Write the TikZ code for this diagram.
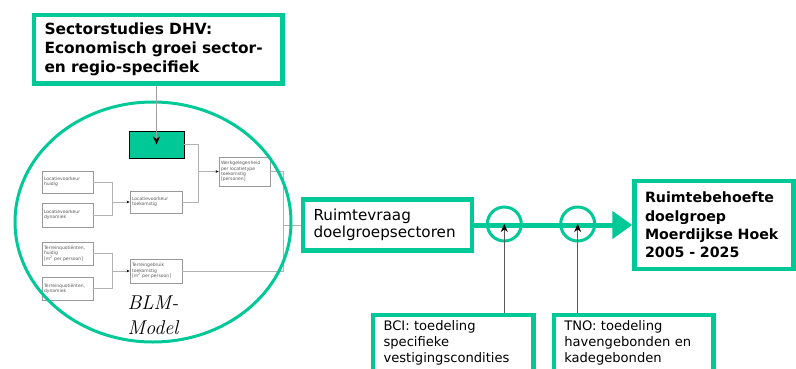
\documentclass[tikz,border=0pt]{standalone}
\usepackage{fontspec}
\newfontfamily\dvsans{DejaVu Sans}
\usetikzlibrary{arrows.meta,shapes.geometric}
\definecolor{dhvgreen}{RGB}{0,200,150}
\begin{document}
\begin{tikzpicture}[x=1pt,y=-1pt,
    greenbox/.style={draw=dhvgreen,line width=4.5pt,fill=white,inner xsep=10.5pt,inner ysep=0pt,align=left},
    blmbox/.style={draw=gray!80,line width=0.7pt,fill=white,inner sep=1.5pt,text width=47pt,
      minimum width=51pt,align=left,text=gray!70!black,font=\dvsans\fontsize{4.5}{5.4}\selectfont},
    wire/.style={draw=gray!60,line width=0.6pt},
    wirearrow/.style={wire,-{Stealth[length=3pt,width=2.6pt,black]}},
    feed/.style={draw=black!65,line width=1pt,-{Stealth[length=8pt,width=7pt,black]}},
    ringnode/.style={circle,draw=dhvgreen,line width=3pt,minimum size=34pt,inner sep=0pt},
    mainarrow/.style={draw=dhvgreen,line width=5pt,-{Triangle[length=20pt,width=27pt,fill=dhvgreen]}}
  ]
  \useasboundingbox (0,0) rectangle (796,368);

  \node[greenbox,text width=227.5pt,minimum height=68.5pt,
    font=\dvsans\bfseries\fontsize{15.4}{19}\selectfont] (sector) at (158.25,49.25)
    {Sectorstudies DHV:\\Economisch groei sector-\\en regio-specifiek};

  \node[blmbox,minimum height=22pt] (lochuidig) at (67.5,182) {Locatievoorkeur\\huidig};
  \node[blmbox,minimum height=24pt] (locdyn) at (67.5,215) {Locatievoorkeur\\dynamiek};
  \node[blmbox,minimum height=22pt,text width=48pt,minimum width=52pt] (loctoek) at (156,202) {Locatievoorkeur\\toekomstig};
  \node[blmbox,minimum height=29pt] (werk) at (244.5,171.5) {Werkgelegenheid\\per locatietype\\toekomstig\\{[personen]}};
  \node[blmbox,minimum height=23pt] (terhuidig) at (67.5,253.5) {Terreinquoti\"enten,\\huidig\\{[m\textsuperscript{2} per persoon]}};
  \node[blmbox,minimum height=23pt] (terdyn) at (67.5,288.5) {Terreinquoti\"enten,\\dynamiek};
  \node[blmbox,minimum height=24pt,text width=48pt,minimum width=52pt] (tertoek) at (156,271) {Terreingebruik\\toekomstig\\{[m\textsuperscript{2} per persoon]}};
  \node[draw=black,fill=dhvgreen,line width=0.8pt,minimum width=55pt,minimum height=27pt] (grn) at (156.5,144.5) {};

  \node[greenbox,text width=148pt,minimum height=51pt,
    font=\dvsans\fontsize{15.2}{17}\selectfont] (vraag) at (387.5,225)
    {Ruimtevraag\\doelgroepsectoren};

  \coordinate (jl1) at (112,202);
  \coordinate (jr1) at (198,171.5);
  \coordinate (jl2) at (112,271);
  \coordinate (jr2) at (283,225);
  \begin{scope}
    \draw[wire] (lochuidig.east) -| (jl1);
    \draw[wire] (locdyn.east) -| (jl1);
    \draw[wirearrow] (jl1) -- (loctoek);
    \draw[wire] (grn.east) -| (jr1);
    \draw[wire] (loctoek.east) -| (jr1);
    \draw[wirearrow] (jr1) -- (werk);
    \draw[wire] (terhuidig.east) -| (jl2);
    \draw[wire] (terdyn.east) -| (jl2);
    \draw[wirearrow] (jl2) -- (tertoek);
    \draw[wire] (tertoek.east) -| (jr2);
    \draw[wire] (werk.east) -| (jr2);
    \draw[wire] (jr2) -- (vraag.west);
  \end{scope}

  \node[ellipse,draw=dhvgreen,line width=3pt,minimum width=276pt,minimum height=240pt] (blm) at (153,222) {};
  \node[align=center,font=\itshape\fontsize{20}{25}\selectfont] (blmlabel) at (153,315.5) {BLM-\\Model};
  \draw[feed,draw=gray!75] (grn |- sector.south) -- (grn.center);

  \node[greenbox,text width=138pt,minimum height=88pt,
    font=\dvsans\bfseries\fontsize{14.2}{18.3}\selectfont] (behoefte) at (714,225)
    {Ruimtebehoefte\\doelgroep\\Moerdijkse Hoek\\2005 - 2025};

  \node[ringnode] (bcring) at (504.3,224) {};
  \node[ringnode] (tnoring) at (577.7,224) {};

  \node[greenbox,anchor=north west,text width=139.2pt,minimum height=57pt,
    font=\dvsans\fontsize{13.1}{16}\selectfont] (bci) at (370.8,312.5)
    {BCI: toedeling\\specifieke\\vestigingscondities};
  \node[greenbox,anchor=north west,text width=138.5pt,minimum height=57pt,
    font=\dvsans\fontsize{13.1}{16}\selectfont] (tno) at (551.5,312.5)
    {TNO: toedeling\\havengebonden en\\kadegebonden};

  \begin{scope}
    \draw[mainarrow] (vraag.east) -- (behoefte.west);
    \draw[feed] (bcring |- bci.north) -- (bcring.center);
    \draw[feed] (tnoring |- tno.north) -- (tnoring.center);
  \end{scope}
\end{tikzpicture}
\end{document}
